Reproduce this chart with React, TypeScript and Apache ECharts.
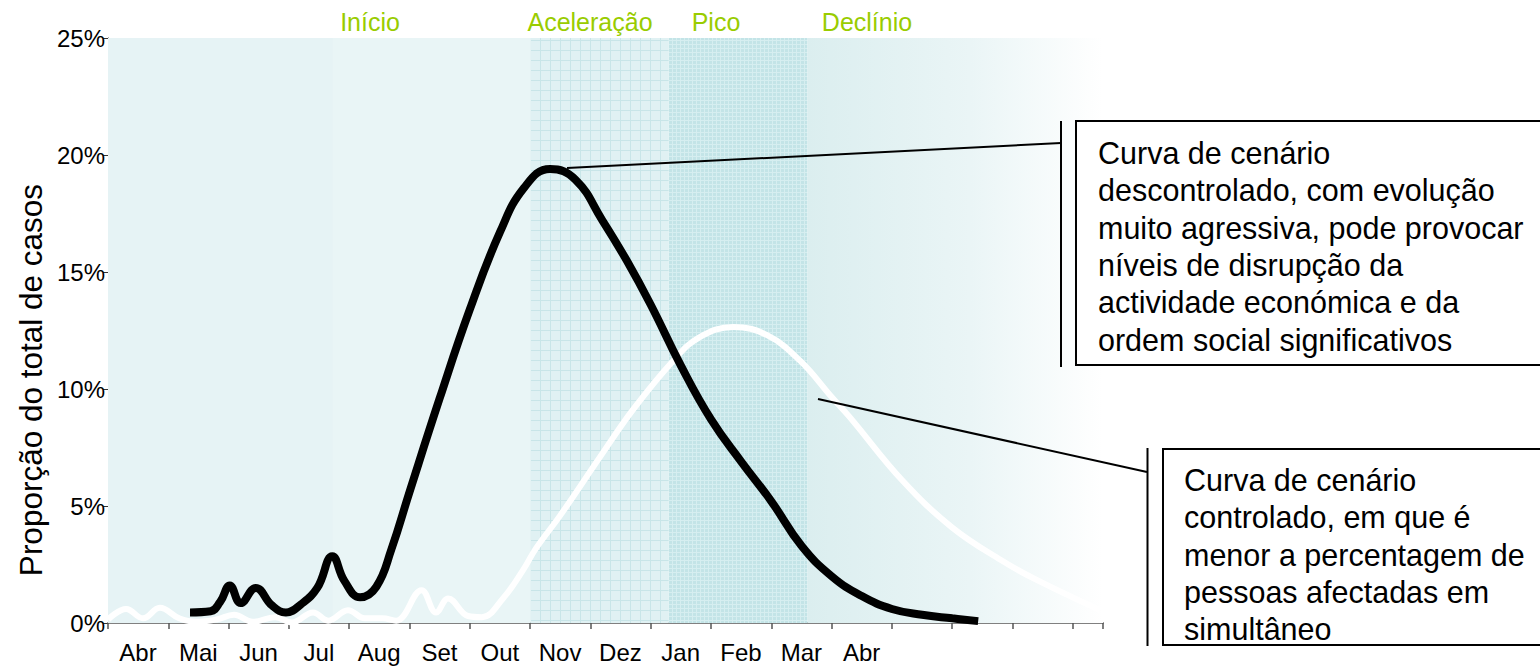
import React, { useEffect, useRef } from 'react';
import * as echarts from 'echarts';

const FONT = '"Liberation Sans", Arial, Helvetica, sans-serif';

const monthLabels = ['Abr', 'Mai', 'Jun', 'Jul', 'Aug', 'Set', 'Out', 'Nov', 'Dez', 'Jan', 'Feb', 'Mar', 'Abr'];
const yTickValues = [0, 5, 10, 15, 20, 25];

const phaseNames = ['Início', 'Aceleração', 'Pico', 'Declínio'];
const phaseLabelCenters = [370, 590, 716, 867];

// background phase bands (x in month units)
const bandStarts = [0, 3.73, 7.01, 9.3, 11.6];
const bandEnds = [3.73, 7.01, 9.3, 11.6, 16.5];

// uncontrolled scenario (black)
const blackX = [1.36, 1.7, 1.86, 2.02, 2.2, 2.45, 2.72, 2.95, 3.2, 3.47, 3.72, 3.92, 4.18, 4.45, 4.7, 5.0, 5.5, 6.0, 6.5, 6.9, 7.33, 7.75, 8.2, 8.6, 9.0, 9.5, 10.0, 10.5, 11.0, 11.5, 12.0, 12.5, 13.0, 13.5, 14.0, 14.43];
const blackY = [0.45, 0.5, 0.9, 1.6, 0.85, 1.5, 0.75, 0.45, 0.8, 1.5, 2.85, 1.8, 1.1, 1.55, 3.15, 5.6, 9.6, 13.4, 16.7, 18.6, 19.4, 18.95, 17.2, 15.5, 13.6, 11.0, 8.7, 6.9, 5.2, 3.3, 2.0, 1.15, 0.6, 0.35, 0.2, 0.08];

// controlled scenario (white)
const whiteX = [0, 0.3, 0.58, 0.86, 1.18, 1.46, 1.8, 2.09, 2.4, 2.77, 3.05, 3.4, 3.65, 3.98, 4.26, 4.55, 4.78, 5.2, 5.44, 5.64, 5.97, 6.2, 6.55, 6.88, 7.1, 7.5, 8.16, 8.7, 9.37, 9.8, 10.37, 10.93, 11.48, 12.0, 12.3, 13.17, 13.99, 14.8, 15.4, 16.45];
const whiteY = [0.15, 0.6, 0.2, 0.65, 0.2, 0.05, 0.15, 0.35, 0.05, 0.25, 0.02, 0.45, 0.1, 0.55, 0.2, 0.2, 0.1, 1.4, 0.45, 1.05, 0.3, 0.25, 1.05, 2.25, 3.2, 4.6, 7.1, 9.1, 11.2, 12.2, 12.65, 12.3, 11.2, 9.66, 8.8, 6.1, 4.1, 2.7, 1.84, 0.55];

const note1 = 'Curva de cenário\ndescontrolado, com evolução\nmuito agressiva, pode provocar\nníveis de disrupção da\nactividade económica e da\nordem social significativos';
const note2 = 'Curva de cenário\ncontrolado, em que é\nmenor a percentagem de\npessoas afectadas em\nsimultâneo';

function makePattern(size: number, base: string, line: string, lw: number) {
  const c = document.createElement('canvas');
  c.width = size;
  c.height = size;
  const ctx = c.getContext('2d');
  if (ctx) {
    ctx.fillStyle = base;
    ctx.fillRect(0, 0, size, size);
    ctx.fillStyle = line;
    ctx.fillRect(0, 0, size, lw);
    ctx.fillRect(0, 0, lw, size);
  }
  return { image: c, repeat: 'repeat', imageWidth: size, imageHeight: size } as any;
}

export default function App() {
  const ref = useRef<HTMLDivElement>(null);
  useEffect(() => {
    if (!ref.current) return;
    const chart = echarts.init(ref.current, undefined, { renderer: 'svg' });

    const bandColors: any[] = [
      '#e6f3f5',
      '#e9f5f6',
      makePattern(10, '#e0f1f3', '#c8e5e8', 1),
      makePattern(4, '#c3e4e7', '#d6eef0', 1),
      {
        type: 'linear', x: 0, y: 0, x2: 1, y2: 0,
        colorStops: [
          { offset: 0, color: '#dbeeef' },
          { offset: 0.55, color: '#eaf5f6' },
          { offset: 1, color: '#ffffff' },
        ],
      },
    ];

    const option: any = {
      animation: false,
      backgroundColor: '#ffffff',
      grid: { left: 108, top: 38, width: 995, height: 585, containLabel: false },
      xAxis: {
        type: 'value',
        min: 0,
        max: 16.5,
        interval: 1,
        splitLine: { show: false },
        axisLine: { show: true, lineStyle: { color: '#808080', width: 2 } },
        axisTick: { show: true, length: 6, lineStyle: { color: '#555555', width: 1.5 } },
        axisLabel: {
          formatter: (v: number) => (Number.isInteger(v) && monthLabels[v]) || '',
          fontSize: 24,
          fontFamily: FONT,
          color: '#000',
          margin: 17,
          padding: [0, 0, 0, 60],
        },
      },
      yAxis: {
        type: 'value',
        min: yTickValues[0],
        max: yTickValues[yTickValues.length - 1],
        interval: 5,
        splitLine: { show: false },
        axisLine: { show: true, lineStyle: { color: '#333333', width: 1 } },
        axisTick: { show: true, length: 5, lineStyle: { color: '#333333' } },
        axisLabel: {
          formatter: '{value}%',
          fontSize: 24,
          fontFamily: FONT,
          color: '#000',
          margin: 3,
        },
      },
      series: [
        {
          type: 'line',
          name: 'controlado',
          data: whiteX.map((x, i) => [x, whiteY[i]]),
          smooth: 0.4,
          symbol: 'none',
          lineStyle: { color: '#ffffff', width: 6 },
          z: 3,
          markArea: {
            silent: true,
            z: 1,
            data: bandStarts.map((s, i) => [
              { xAxis: s, itemStyle: { color: bandColors[i], borderWidth: 0 } },
              { xAxis: bandEnds[i] },
            ]),
          },
        },
        {
          type: 'line',
          name: 'descontrolado',
          data: blackX.map((x, i) => [x, blackY[i]]),
          smooth: 0.45,
          symbol: 'none',
          lineStyle: { color: '#000000', width: 8 },
          z: 4,
        },
      ],
      graphic: [
        ...phaseNames.map((name, i) => ({
          type: 'text',
          x: phaseLabelCenters[i],
          y: 22,
          style: {
            text: name,
            fill: '#99cc00',
            font: `25px ${FONT}`,
            textAlign: 'center',
            textVerticalAlign: 'middle',
          },
        })),
        {
          type: 'text',
          x: 31,
          y: 380,
          rotation: Math.PI / 2,
          style: {
            text: 'Proporção do total de casos',
            fill: '#000',
            font: `31.5px ${FONT}`,
            textAlign: 'center',
            textVerticalAlign: 'middle',
          },
        },
        // annotation 1
        { type: 'line', shape: { x1: 567, y1: 168, x2: 1061, y2: 143 }, style: { stroke: '#000', lineWidth: 2 }, z: 10 },
        { type: 'line', shape: { x1: 1061, y1: 121, x2: 1061, y2: 367 }, style: { stroke: '#000', lineWidth: 2 }, z: 10 },
        { type: 'rect', shape: { x: 1076, y: 121, width: 480, height: 244 }, style: { fill: '#fff', stroke: '#000', lineWidth: 2 }, z: 10 },
        {
          type: 'text', x: 1098, y: 134, z: 11,
          style: { text: note1, fill: '#000', font: `30.5px ${FONT}`, lineHeight: 37.4, textVerticalAlign: 'top' },
        },
        // annotation 2
        { type: 'line', shape: { x1: 818, y1: 399, x2: 1147, y2: 472 }, style: { stroke: '#000', lineWidth: 2 }, z: 10 },
        { type: 'line', shape: { x1: 1147.5, y1: 448, x2: 1147.5, y2: 646 }, style: { stroke: '#000', lineWidth: 2 }, z: 10 },
        { type: 'rect', shape: { x: 1163, y: 449, width: 400, height: 196 }, style: { fill: '#fff', stroke: '#000', lineWidth: 2 }, z: 10 },
        {
          type: 'text', x: 1184, y: 461, z: 11,
          style: { text: note2, fill: '#000', font: `30.5px ${FONT}`, lineHeight: 37.4, textVerticalAlign: 'top' },
        },
      ],
    };

    chart.setOption(option);
    return () => chart.dispose();
  }, []);

  return (
    <div
      ref={ref}
      style={{ position: 'absolute', left: 0, top: 0, width: 1540, height: 666 }}
    />
  );
}
